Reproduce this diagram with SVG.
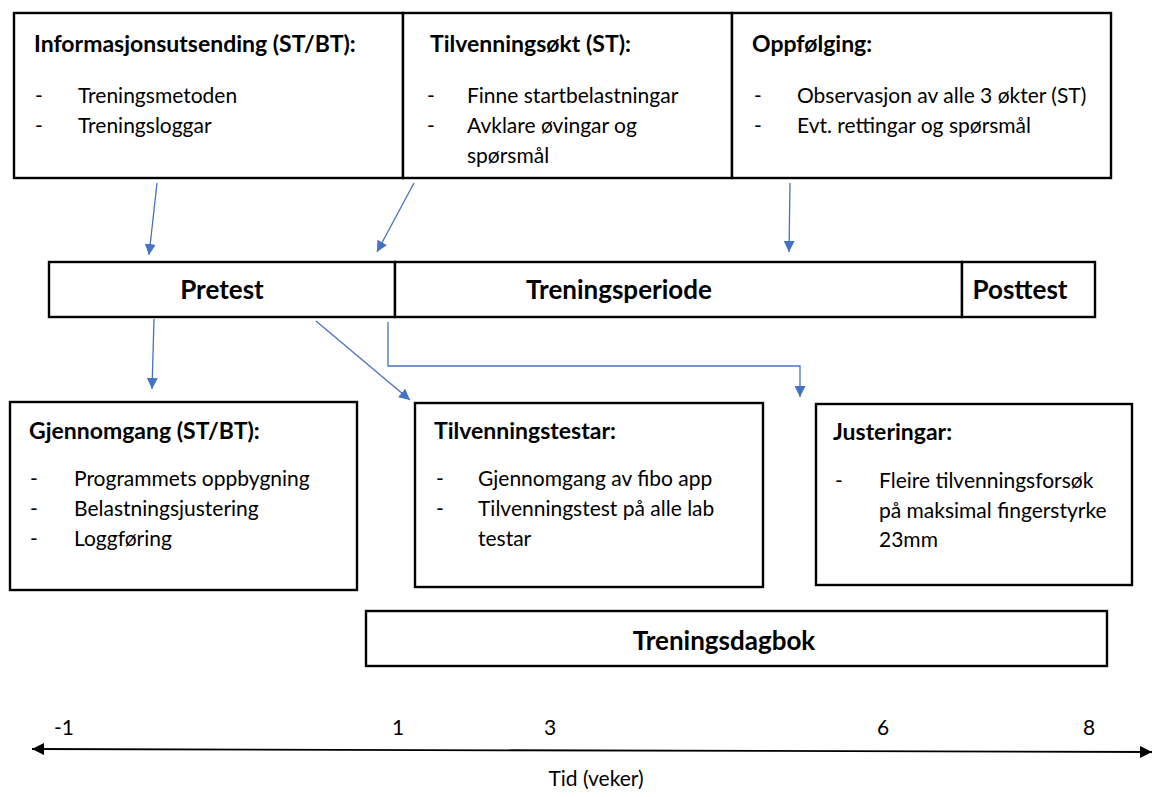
<svg xmlns="http://www.w3.org/2000/svg" width="1155" height="797" viewBox="0 0 1155 797">
<defs>
<style>
.box{fill:#fff;stroke:#000;stroke-width:2.4}
.t{font-family:Lato,"Open Sans","Liberation Sans",sans-serif;font-size:21px;fill:#000}
.h{font-family:Lato,"Open Sans","Liberation Sans",sans-serif;font-size:23px;font-weight:bold;fill:#000}
.m{font-family:Lato,"Open Sans","Liberation Sans",sans-serif;font-size:26px;font-weight:bold;fill:#000;text-anchor:middle}
.c{stroke:#4472C4;stroke-width:1.3;fill:none}
.ax{font-family:Lato,"Liberation Sans",sans-serif;font-size:21px;fill:#000;text-anchor:middle}
</style>
<marker id="ah" viewBox="0 0 10 10" refX="10" refY="5" markerWidth="11" markerHeight="11" markerUnits="userSpaceOnUse" orient="auto"><path d="M0,0 L10,5 L0,10 Z" fill="#4472C4"/></marker>
<marker id="bk" viewBox="0 0 10 10" refX="10" refY="5" markerWidth="12" markerHeight="12" markerUnits="userSpaceOnUse" orient="auto-start-reverse"><path d="M0,0 L10,5 L0,10 Z" fill="#000"/></marker>
</defs>
<rect width="1155" height="797" fill="#fff"/>

<g id="info">
<rect class="box" x="14" y="13" width="389" height="165"/>
<text class="h" x="34" y="52">Informasjonsutsending (ST/BT):</text>
<text class="t" x="35" y="103">-</text><text class="t" x="78" y="103">Treningsmetoden</text>
<text class="t" x="35" y="133">-</text><text class="t" x="78" y="133">Treningsloggar</text>
</g>
<g id="tilvenningsokt">
<rect class="box" x="403" y="13" width="329" height="165"/>
<text class="h" x="430" y="52">Tilvenningsøkt (ST):</text>
<text class="t" x="427" y="103">-</text><text class="t" x="467" y="103">Finne startbelastningar</text>
<text class="t" x="427" y="133">-</text><text class="t" x="467" y="133">Avklare øvingar og</text>
<text class="t" x="467" y="163">spørsmål</text>
</g>
<g id="oppfolging">
<rect class="box" x="732" y="13" width="379" height="165"/>
<text class="h" x="752" y="52">Oppfølging:</text>
<text class="t" x="754" y="103">-</text><text class="t" x="797" y="103">Observasjon av alle 3 økter (ST)</text>
<text class="t" x="754" y="133">-</text><text class="t" x="797" y="133">Evt. rettingar og spørsmål</text>
</g>

<g id="pretest">
<rect class="box" x="49" y="262" width="346" height="55"/>
<text class="m" x="222" y="299">Pretest</text>
</g>
<g id="treningsperiode">
<rect class="box" x="395" y="262" width="567" height="55"/>
<text class="m" x="619" y="299">Treningsperiode</text>
</g>
<g id="posttest">
<rect class="box" x="962" y="262" width="133" height="55"/>
<text class="m" x="1020" y="299">Posttest</text>
</g>

<g id="gjennomgang">
<rect class="box" x="10" y="402" width="347" height="188"/>
<text class="h" x="29" y="439">Gjennomgang (ST/BT):</text>
<text class="t" x="30" y="486">-</text><text class="t" x="74" y="486">Programmets oppbygning</text>
<text class="t" x="30" y="516">-</text><text class="t" x="74" y="516">Belastningsjustering</text>
<text class="t" x="30" y="546">-</text><text class="t" x="74" y="546">Loggføring</text>
</g>
<g id="tilvenningstestar">
<rect class="box" x="415" y="403" width="348" height="184"/>
<text class="h" x="434" y="439">Tilvenningstestar:</text>
<text class="t" x="436" y="486">-</text><text class="t" x="478" y="486">Gjennomgang av fibo app</text>
<text class="t" x="436" y="516">-</text><text class="t" x="478" y="516">Tilvenningstest på alle lab</text>
<text class="t" x="478" y="546">testar</text>
</g>
<g id="justeringar">
<rect class="box" x="816" y="404" width="316" height="181"/>
<text class="h" x="833" y="440">Justeringar:</text>
<text class="t" x="835" y="488">-</text><text class="t" x="879" y="488">Fleire tilvenningsforsøk</text>
<text class="t" x="879" y="518">på maksimal fingerstyrke</text>
<text class="t" x="879" y="547">23mm</text>
</g>
<g id="treningsdagbok">
<rect class="box" x="366" y="611" width="741" height="55"/>
<text class="m" x="724" y="650">Treningsdagbok</text>
</g>

<g id="connectors">
<line class="c" x1="157" y1="183" x2="149" y2="255" marker-end="url(#ah)"/>
<line class="c" x1="414" y1="183" x2="377" y2="252" marker-end="url(#ah)"/>
<line class="c" x1="790" y1="183" x2="789" y2="252" marker-end="url(#ah)"/>
<line class="c" x1="154" y1="319" x2="152" y2="389" marker-end="url(#ah)"/>
<line class="c" x1="316" y1="321" x2="410" y2="400" marker-end="url(#ah)"/>
<polyline class="c" points="388,322 388,366 800,366 800,397" marker-end="url(#ah)"/>
</g>

<g id="axis">
<line x1="32" y1="749" x2="1152" y2="752" stroke="#000" stroke-width="1.8" marker-start="url(#bk)" marker-end="url(#bk)"/>
<text class="ax" x="64" y="735">-1</text>
<text class="ax" x="398" y="735">1</text>
<text class="ax" x="550" y="735">3</text>
<text class="ax" x="883" y="735">6</text>
<text class="ax" x="1089" y="735">8</text>
<text class="ax" x="596" y="786">Tid (veker)</text>
</g>
</svg>
